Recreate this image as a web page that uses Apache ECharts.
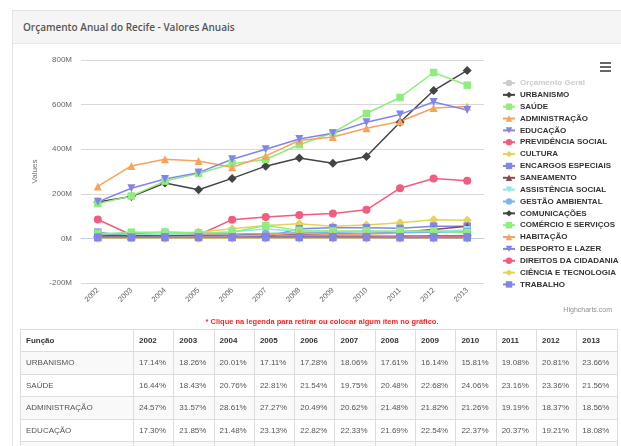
<!DOCTYPE html>
<html>
<head>
<meta charset="utf-8">
<script src="https://cdn.jsdelivr.net/npm/echarts@6/dist/echarts.min.js"></script>
<style>
body{margin:0;background:#fff;font-family:"Liberation Sans",Arial,sans-serif;overflow:hidden;}
#card{position:absolute;left:12px;top:10px;width:640px;height:460px;border:1px solid #e3e3e3;}
#head{position:absolute;left:0;top:0;right:0;height:32px;background:#f5f5f5;border-bottom:1px solid #e8e8e8;}
#head span{position:absolute;left:10px;top:9px;font:600 10px "Open Sans";color:#555;}
#main{position:absolute;left:0;top:0;width:621px;height:330px;}
#note{position:absolute;left:12px;top:317px;width:620px;text-align:center;font:bold 7.5px "Liberation Sans",Arial;color:#f22;}
#tab{position:absolute;left:20px;top:329px;border-collapse:collapse;table-layout:fixed;font-size:8px;color:#555;}
#tab td,#tab th{border:1px solid #ddd;padding:0 0 0 5px;text-align:left;white-space:nowrap;overflow:hidden;}
#tab th{height:21px;font-weight:bold;color:#333;}
#tab td{height:21.5px;}
#tab tr:nth-child(even) td{background:#f9f9f9;}
</style>
</head>
<body>
<div id="card"><div id="head"><span>Orçamento Anual do Recife - Valores Anuais</span></div></div>
<div id="main"></div>
<div id="note">* Clique na legenda para retirar ou colocar algum ítem no gráfico.</div>
<table id="tab"></table>
<script>
// ---------- data (millions) ----------
var anos = ['2002','2003','2004','2005','2006','2007','2008','2009','2010','2011','2012','2013'];
var funcoes = ['Orçamento Geral','URBANISMO','SAÚDE','ADMINISTRAÇÃO','EDUCAÇÃO','PREVIDÊNCIA SOCIAL','CULTURA','ENCARGOS ESPECIAIS','SANEAMENTO','ASSISTÊNCIA SOCIAL','GESTÃO AMBIENTAL','COMUNICAÇÕES','COMÉRCIO E SERVIÇOS','HABITAÇÃO','DESPORTO E LAZER','DIREITOS DA CIDADANIA','CIÊNCIA E TECNOLOGIA','TRABALHO'];

var geral        = [951, 1030, 1239, 1274, 1557, 1794, 2050, 2088, 2321, 2731, 3186, 3183];
var urbanismo    = [163, 188, 248, 218, 269, 324, 361, 337, 367, 521, 663, 753];
var saude        = [156, 190, 257, 291, 335, 354, 420, 474, 560, 632, 744, 687];
var administracao= [233, 325, 355, 347, 319, 370, 439, 455, 494, 524, 585, 591];
var educacao     = [164, 225, 266, 295, 355, 400, 446, 472, 521, 556, 612, 576];
var previdencia  = [85, 15, 12, 15, 84, 96, 105, 112, 128, 225, 269, 258];
var cultura      = [8, 12, 20, 28, 43, 58, 66, 54, 60, 70, 84, 81];
var encargos     = [28, 10, 8, 12, 6, 6, 43, 48, 48, 45, 55, 55];
var saneamento   = [15, 12, 12, 14, 15, 18, 20, 20, 22, 28, 40, 55];
var assistencia  = [22, 20, 18, 22, 30, 42, 32, 30, 30, 30, 32, 38];
var gestao       = [20, 22, 28, 25, 20, 22, 25, 25, 22, 25, 28, 30];
var comunicacoes = [8, 8, 8, 8, 8, 10, 10, 10, 10, 12, 12, 12];
var comercio     = [20, 28, 28, 24, 28, 58, 36, 33, 33, 33, 33, 25];
var habitacao    = [5, 5, 6, 8, 10, 15, 24, 18, 15, 12, 10, 10];
var desporto     = [4, 4, 5, 5, 5, 6, 6, 6, 6, 6, 5, 5];
var direitos     = [3, 3, 3, 3, 4, 4, 4, 4, 5, 5, 5, 6];
var ciencia      = [0.5, 0.5, 0.5, 0.5, 1, 1, 1, 1, 1, 1, 1, 1];
var trabalho     = [4, 4, 4, 4, 4, 4, 4, 4, 4, 3, 3, 3];

var valores = [geral, urbanismo, saude, administracao, educacao, previdencia, cultura, encargos, saneamento,
               assistencia, gestao, comunicacoes, comercio, habitacao, desporto, direitos, ciencia, trabalho];

var ticksY = [-200, 0, 200, 400, 600, 800];

// table (percent of total)
var tabNomes = ['URBANISMO','SAÚDE','ADMINISTRAÇÃO','EDUCAÇÃO','PREVIDÊNCIA SOCIAL'];
var pctUrbanismo = ['17.14%','18.26%','20.01%','17.11%','17.28%','18.06%','17.61%','16.14%','15.81%','19.08%','20.81%','23.66%'];
var pctSaude     = ['16.44%','18.43%','20.76%','22.81%','21.54%','19.75%','20.48%','22.68%','24.06%','23.16%','23.36%','21.56%'];
var pctAdmin     = ['24.57%','31.57%','28.61%','27.27%','20.49%','20.62%','21.48%','21.82%','21.26%','19.19%','18.37%','18.56%'];
var pctEducacao  = ['17.30%','21.85%','21.48%','23.13%','22.82%','22.33%','21.69%','22.54%','22.37%','20.37%','19.21%','18.08%'];
var pctPrev      = ['8.94%','1.46%','0.97%','1.18%','5.39%','5.35%','5.12%','5.36%','5.51%','8.24%','8.44%','8.11%'];
var tabPct = [pctUrbanismo, pctSaude, pctAdmin, pctEducacao, pctPrev];

// ---------- styles ----------
var cores = ['#7cb5ec','#434348','#90ed7d','#f7a35c','#8085e9','#f15c80','#e4d354','#8085e8','#8d4653','#91e8e1'];
var triDown = 'path://M0,0L10,0L5,10Z';
var simbolos = ['circle','diamond','rect',  'triangle', triDown];
var tamanhos = [8, 9, 7.5, 8, 8];

// ---------- table ----------
var html = '<colgroup><col style="width:113px">';
for (var i = 0; i < anos.length; i++) html += '<col style="width:40.3px">';
html += '</colgroup><tr><th>Função</th>';
for (var i = 0; i < anos.length; i++) html += '<th>' + anos[i] + '</th>';
html += '</tr>';
for (var r = 0; r < tabNomes.length; r++) {
  html += '<tr><td>' + tabNomes[r] + '</td>';
  for (var i = 0; i < anos.length; i++) html += '<td>' + tabPct[r][i] + '</td>';
  html += '</tr>';
}
document.getElementById('tab').innerHTML = html;

// ---------- chart ----------
var chartDom = document.getElementById('main');
var myChart = echarts.init(chartDom, null, {renderer: 'canvas'});

var series = [];
var selected = {};
for (var s = 0; s < funcoes.length; s++) {
  series.push({
    name: funcoes[s],
    type: 'line',
    data: valores[s],
    symbol: simbolos[s % 5],
    symbolSize: tamanhos[s % 5],
    color: cores[s % 10],
    lineStyle: {width: 1.5},
    emphasis: {disabled: true}
  });
}
selected['Orçamento Geral'] = false;

var option = {
  animation: false,
  grid: {left: 81, right: 137, top: 60, bottom: 47, outerBoundsMode: 'none'},
  legend: {
    orient: 'vertical',
    left: 502,
    top: 79,
    padding: 0,
    itemWidth: 12,
    itemHeight: 8,
    itemGap: 3.85,
    selected: selected,
    inactiveColor: '#ccc',
    textStyle: {fontSize: 8, fontWeight: 'bold', color: '#333', lineHeight: 8, fontFamily: '"Liberation Sans", Arial'},
    data: funcoes
  },
  xAxis: {
    type: 'category',
    data: anos,
    axisLine: {lineStyle: {color: '#C0D0E0'}},
    axisTick: {length: 5, lineStyle: {color: '#C0D0E0'}},
    axisLabel: {rotate: 45, fontSize: 7.5, color: '#666', margin: 6, fontFamily: '"Liberation Sans", Arial'}
  },
  yAxis: {
    type: 'value',
    min: ticksY[0],
    max: ticksY[ticksY.length - 1],
    interval: 200,
    name: 'Values',
    nameLocation: 'middle',
    nameGap: 38,
    nameTextStyle: {fontSize: 8, color: '#707070', fontFamily: '"Liberation Sans", Arial'},
    axisLine: {show: false},
    axisTick: {show: false},
    splitLine: {lineStyle: {color: '#d8d8d8'}},
    axisLabel: {
      fontSize: 8, color: '#666', margin: 9, fontFamily: '"Liberation Sans", Arial',
      formatter: function (v) { return v + 'M'; }
    }
  },
  graphic: [
    {type: 'rect', shape: {x: 600, y: 62, width: 11, height: 2}, style: {fill: '#666'}},
    {type: 'rect', shape: {x: 600, y: 66, width: 11, height: 2}, style: {fill: '#666'}},
    {type: 'rect', shape: {x: 600, y: 70, width: 11, height: 2}, style: {fill: '#666'}},
    {type: 'text', right: 9, top: 307, style: {text: 'Highcharts.com', fontSize: 7, fill: '#909090', fontFamily: '"Liberation Sans", Arial'}}
  ],
  series: series
};
option && myChart.setOption(option);
</script>
</body>
</html>
